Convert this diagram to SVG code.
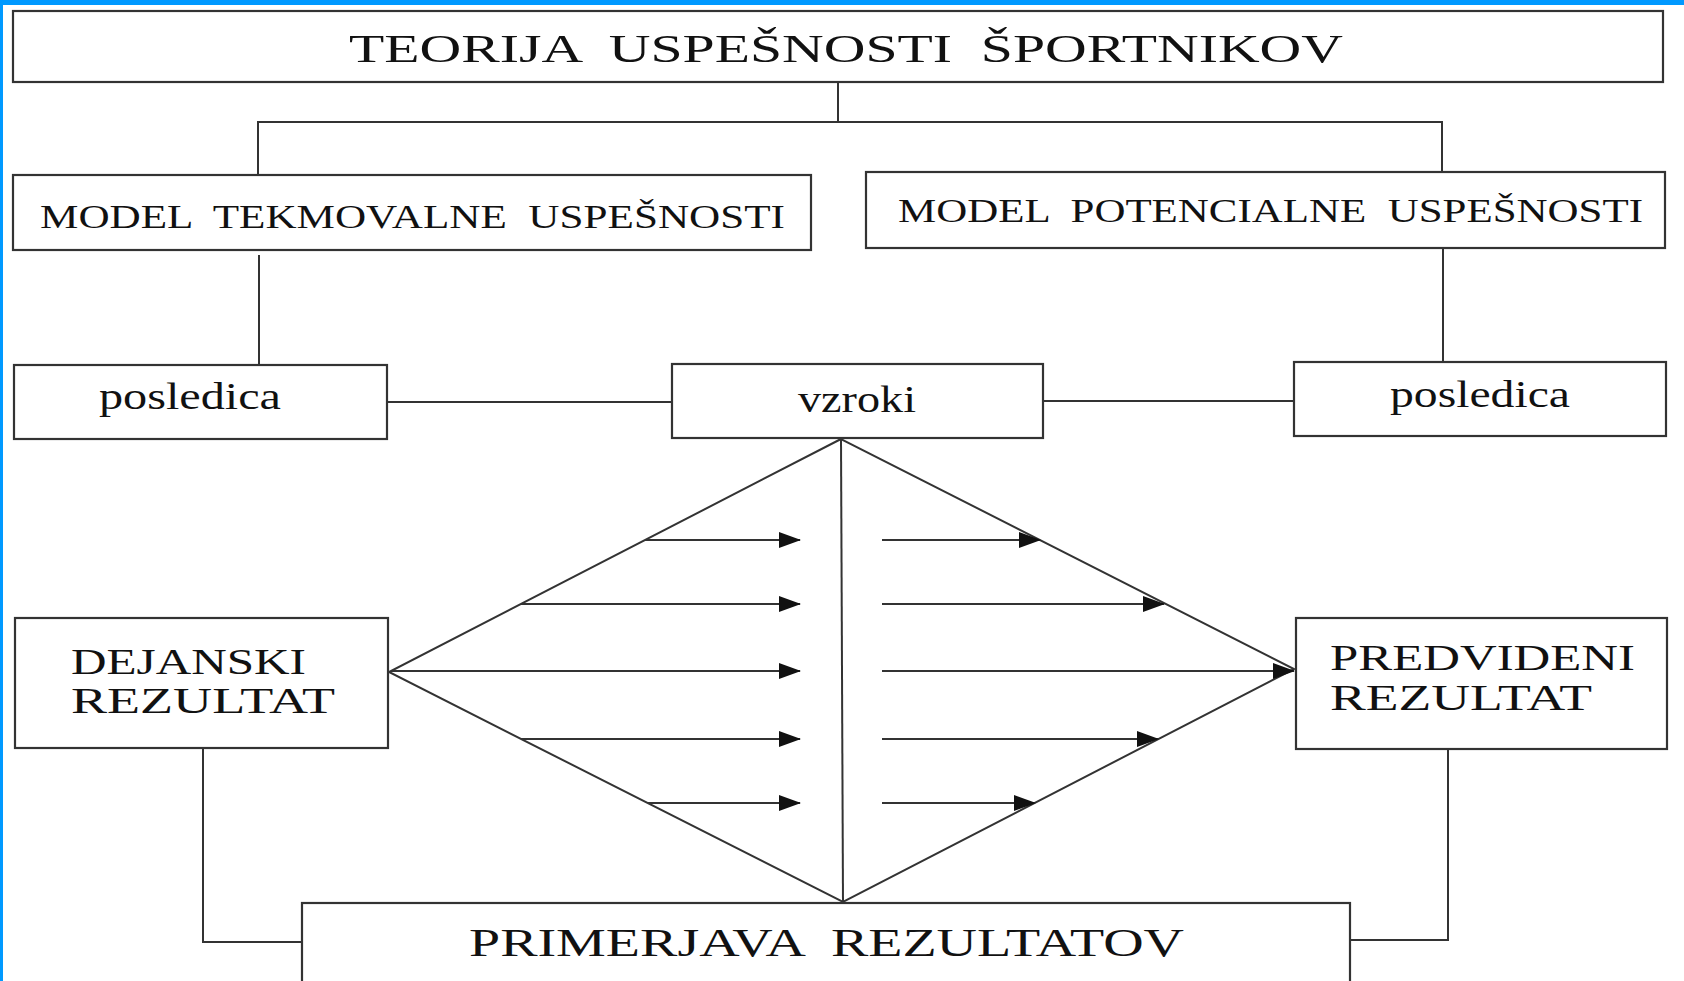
<svg xmlns="http://www.w3.org/2000/svg" width="1684" height="981" viewBox="0 0 1684 981">
<defs>
<marker id="ah" markerUnits="userSpaceOnUse" markerWidth="22" markerHeight="16" refX="21" refY="8" orient="auto">
<path d="M0,0 L22,8 L0,16 Z" fill="#111"/>
</marker>
<style>
.box{fill:#fff;stroke:#333;stroke-width:2.2}
.ln{fill:none;stroke:#333;stroke-width:2}
.ar{fill:none;stroke:#333;stroke-width:2.2;marker-end:url(#ah)}
text{font-family:"Liberation Serif","Times New Roman",serif;fill:#111;white-space:pre}
.t{font-size:41px}
.m{font-size:33px}
.p{font-size:37px}
.r{font-size:36px}
.c{font-size:40px}
</style>
</defs>
<rect x="0" y="0" width="1684" height="981" fill="#fff"/>
<rect x="0" y="0" width="1684" height="5" fill="#0099ff"/>
<rect x="0" y="0" width="3" height="981" fill="#0099ff"/>

<g id="connectors">
<polyline class="ln" points="838,82 838,122"/>
<polyline class="ln" points="258,175 258,122 1442,122 1442,172"/>
<line class="ln" x1="259" y1="255" x2="259" y2="365"/>
<line class="ln" x1="1443" y1="248" x2="1443" y2="362"/>
<line class="ln" x1="387" y1="402" x2="672" y2="402"/>
<line class="ln" x1="1043" y1="401" x2="1294" y2="401"/>
<polygon class="ln" points="841,439 389,672 843,902 1294,669"/>
<line class="ln" x1="841" y1="439" x2="843" y2="902"/>
<polyline class="ln" points="203,748 203,942 302,942"/>
<polyline class="ln" points="1448,749 1448,940 1350,940"/>
<line class="ar" x1="645" y1="540" x2="800" y2="540"/>
<line class="ar" x1="521" y1="604" x2="800" y2="604"/>
<line class="ar" x1="391" y1="671" x2="800" y2="671"/>
<line class="ar" x1="521" y1="739" x2="800" y2="739"/>
<line class="ar" x1="648" y1="803" x2="800" y2="803"/>
<line class="ar" x1="882" y1="540" x2="1040" y2="540"/>
<line class="ar" x1="882" y1="604" x2="1164" y2="604"/>
<line class="ar" x1="882" y1="671" x2="1294" y2="671"/>
<line class="ar" x1="882" y1="739" x2="1158" y2="739"/>
<line class="ar" x1="882" y1="803" x2="1035" y2="803"/>
</g>

<g id="title">
<rect class="box" x="13" y="11" width="1650" height="71"/>
<text class="t" x="349" y="62" textLength="994" lengthAdjust="spacingAndGlyphs" xml:space="preserve">TEORIJA  USPEŠNOSTI  ŠPORTNIKOV</text>
</g>
<g id="model-tekmovalne">
<rect class="box" x="13" y="175" width="798" height="75"/>
<text class="m" x="40" y="228" textLength="745" lengthAdjust="spacingAndGlyphs" xml:space="preserve">MODEL  TEKMOVALNE  USPEŠNOSTI</text>
</g>
<g id="model-potencialne">
<rect class="box" x="866" y="172" width="799" height="76"/>
<text class="m" x="898" y="222" textLength="745" lengthAdjust="spacingAndGlyphs" xml:space="preserve">MODEL  POTENCIALNE  USPEŠNOSTI</text>
</g>
<g id="posledica-left">
<rect class="box" x="14" y="365" width="373" height="74"/>
<text class="p" x="99" y="409" textLength="182" lengthAdjust="spacingAndGlyphs">posledica</text>
</g>
<g id="vzroki">
<rect class="box" x="672" y="364" width="371" height="74"/>
<text class="p" x="798" y="412" textLength="118" lengthAdjust="spacingAndGlyphs">vzroki</text>
</g>
<g id="posledica-right">
<rect class="box" x="1294" y="362" width="372" height="74"/>
<text class="p" x="1390" y="407" textLength="180" lengthAdjust="spacingAndGlyphs">posledica</text>
</g>
<g id="dejanski">
<rect class="box" x="15" y="618" width="373" height="130"/>
<text class="r" x="71" y="674" textLength="235" lengthAdjust="spacingAndGlyphs">DEJANSKI</text>
<text class="r" x="71" y="713" textLength="264" lengthAdjust="spacingAndGlyphs">REZULTAT</text>
</g>
<g id="predvideni">
<rect class="box" x="1296" y="618" width="371" height="131"/>
<text class="r" x="1330" y="670" textLength="305" lengthAdjust="spacingAndGlyphs">PREDVIDENI</text>
<text class="r" x="1330" y="710" textLength="262" lengthAdjust="spacingAndGlyphs">REZULTAT</text>
</g>
<g id="primerjava">
<rect class="box" x="302" y="903" width="1048" height="90"/>
<text class="c" x="469" y="956" textLength="715" lengthAdjust="spacingAndGlyphs" xml:space="preserve">PRIMERJAVA  REZULTATOV</text>
</g>
</svg>
